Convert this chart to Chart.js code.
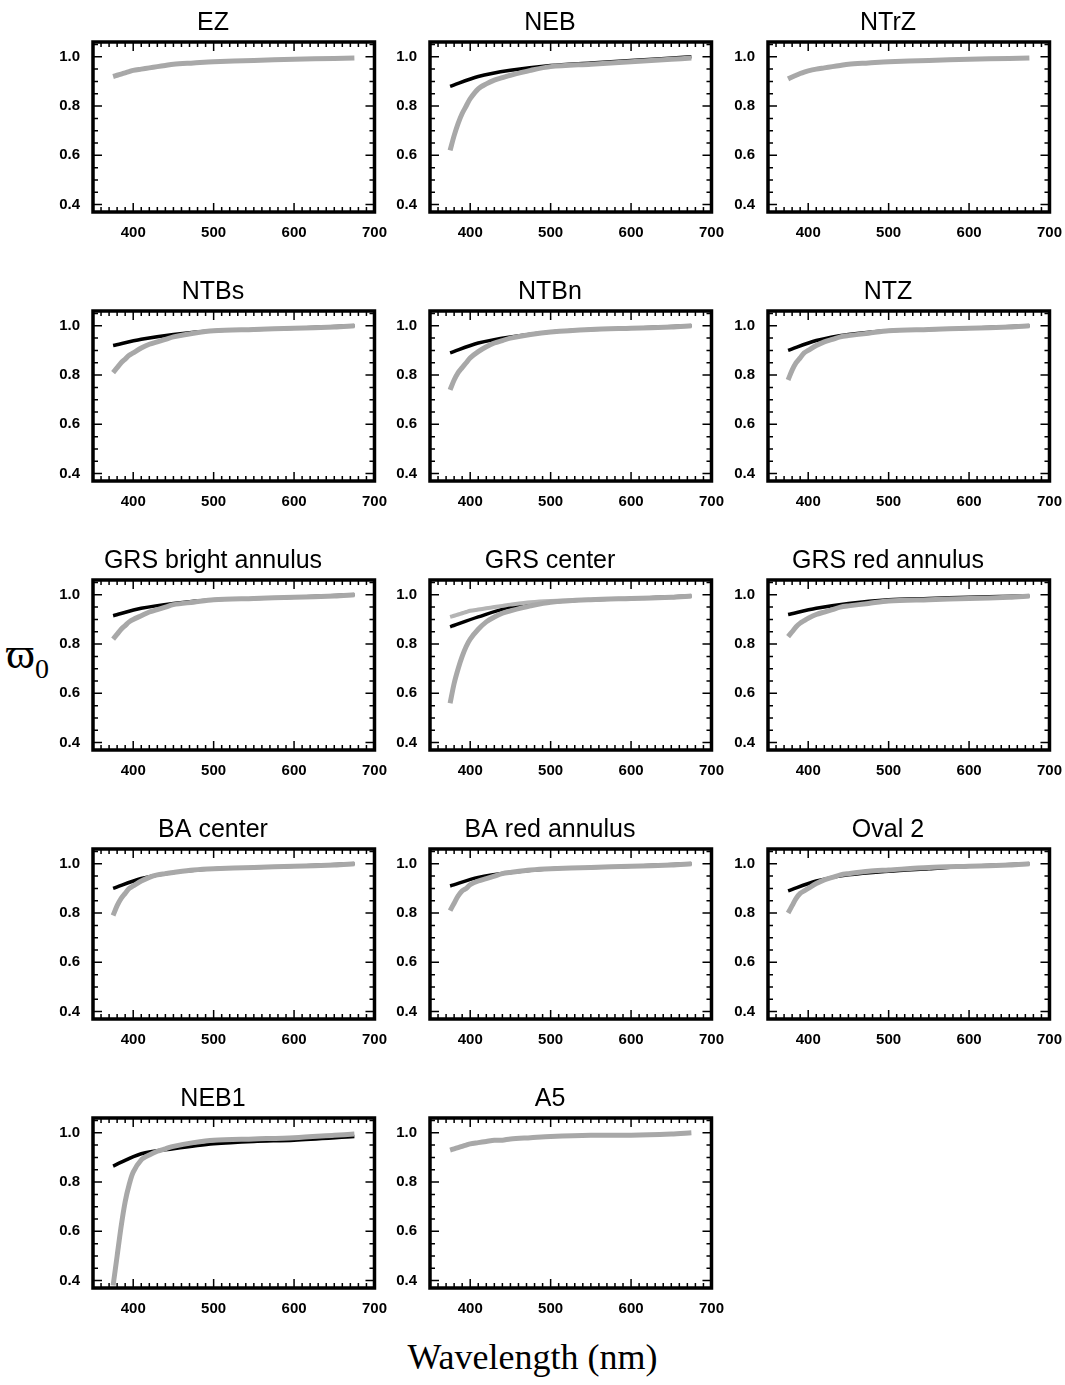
<!DOCTYPE html>
<html><head><meta charset="utf-8">
<script src="https://cdn.jsdelivr.net/npm/chart.js@4/dist/chart.umd.min.js"></script>
<style>
body{margin:0;background:#fff;width:1065px;height:1385px;position:relative;overflow:hidden}
.p{position:absolute}
#yl{position:absolute;left:6px;top:628px;font:44px "Liberation Serif",serif}
#yl sub{font-size:28px}
#xl{position:absolute;left:0;width:1065px;top:1336px;text-align:center;font:36px "Liberation Serif",serif}
</style></head><body>
<div id="yl">ϖ<sub>0</sub></div>
<div id="xl">Wavelength (nm)</div>
<script>
const WL = [375,380,385,390,395,400,410,420,430,440,450,475,500,550,600,650,675];
const BLACK_WL = [375,410,450,500,550,600,675];
const TITLES = ['EZ','NEB','NTrZ','NTBs','NTBn','NTZ','GRS bright annulus','GRS center','GRS red annulus','BA center','BA red annulus','Oval 2','NEB1','A5'];
const X_TICKS = [400,500,600,700];
const Y_TICKS = [0.4,0.6,0.8,1.0];

const GRAY = [
  [.92,.925,.93,.935,.94,.945,.95,.955,.96,.965,.97,.975,.98,.985,.99,.993,.995],
  [.62,.68,.73,.77,.80,.83,.87,.89,.905,.915,.925,.945,.96,.97,.98,.99,.995],
  [.91,.918,.925,.932,.938,.943,.95,.955,.96,.965,.97,.975,.98,.985,.99,.993,.995],
  [.81,.83,.85,.865,.88,.89,.91,.925,.935,.945,.955,.97,.98,.985,.99,.995,1.0],
  [.74,.78,.81,.83,.85,.87,.895,.915,.93,.94,.95,.965,.975,.985,.99,.995,1.0],
  [.78,.82,.85,.87,.89,.90,.92,.935,.945,.955,.96,.97,.98,.985,.99,.995,1.0],
  [.82,.84,.86,.875,.89,.90,.915,.93,.94,.95,.96,.97,.98,.985,.99,.995,1.0],
  [.56,.64,.70,.75,.79,.82,.86,.89,.91,.925,.935,.955,.97,.98,.985,.99,.995],
  [.83,.85,.87,.885,.895,.905,.92,.93,.94,.95,.955,.965,.975,.98,.985,.99,.995],
  [.79,.83,.86,.88,.90,.91,.93,.945,.955,.96,.965,.975,.98,.985,.99,.995,1.0],
  [.81,.84,.87,.89,.90,.915,.93,.94,.95,.96,.965,.975,.98,.985,.99,.995,1.0],
  [.80,.83,.86,.88,.89,.90,.92,.935,.945,.955,.96,.97,.975,.985,.99,.995,1.0],
  [.38,.50,.62,.72,.79,.84,.89,.91,.925,.935,.945,.96,.97,.975,.98,.99,.995],
  [.93,.935,.94,.945,.95,.955,.96,.965,.97,.97,.975,.98,.985,.99,.99,.995,1.0]
];
// second gray curve only in GRS center
const GRAY2_GRS_CENTER = [.91,.915,.92,.925,.93,.935,.94,.945,.95,.955,.96,.97,.975,.98,.985,.99,.995];
const BLACK = [
  null,
  [.88,.92,.945,.965,.975,.985,1.0],
  null,
  [.92,.945,.965,.98,.985,.99,1.0],
  [.89,.93,.955,.975,.985,.99,1.0],
  [.90,.94,.965,.98,.985,.99,1.0],
  [.915,.945,.965,.98,.985,.99,1.0],
  [.87,.91,.95,.97,.98,.985,.995],
  [.92,.945,.965,.98,.985,.99,.995],
  [.90,.94,.965,.98,.985,.99,1.0],
  [.91,.945,.965,.98,.985,.99,1.0],
  [.89,.93,.955,.97,.98,.99,1.0],
  [.865,.915,.935,.955,.965,.97,.985],
  null
];

const COL_LEFT = [93,430,768];
const ROW_TOP = [42,311,580,849,1118];
const PW = 282, PH = 170, YAX = 42, XAX = 27, TT = 34, RP = 16;

const boxTicks = {
  id: 'boxTicks',
  afterDraw(c) {
    const {ctx, chartArea: a, scales: {x, y}} = c;
    ctx.save();
    ctx.strokeStyle = '#000';
    ctx.lineWidth = 1.5;
    for (let v = 350; v <= 700; v += 10) {
      const px = x.getPixelForValue(v);
      const len = v % 100 === 0 ? 9 : 5;
      ctx.beginPath();
      ctx.moveTo(px, a.bottom); ctx.lineTo(px, a.bottom - len);
      ctx.moveTo(px, a.top); ctx.lineTo(px, a.top + len);
      ctx.stroke();
    }
    for (let i = 8; i <= 21; i++) {
      const v = i * 0.05;
      const py = y.getPixelForValue(v);
      if (py < a.top || py > a.bottom) continue;
      const len = i % 4 === 0 ? 9 : 5;
      ctx.beginPath();
      ctx.moveTo(a.left, py); ctx.lineTo(a.left + len, py);
      ctx.moveTo(a.right, py); ctx.lineTo(a.right - len, py);
      ctx.stroke();
    }
    ctx.lineWidth = 3.5;
    ctx.strokeRect(a.left, a.top, a.right - a.left, a.bottom - a.top);
    ctx.restore();
  }
};

function pts(xs, ys) { return xs.map((v, i) => ({x: v, y: ys[i]})); }

TITLES.forEach((title, i) => {
  const col = i % 3, row = Math.floor(i / 3);
  const div = document.createElement('div');
  div.className = 'p';
  const w = YAX + PW + RP, h = TT + PH + XAX;
  div.style.cssText = `left:${COL_LEFT[col]-YAX}px;top:${ROW_TOP[row]-TT}px;width:${w}px;height:${h}px`;
  const cv = document.createElement('canvas');
  div.appendChild(cv);
  document.body.appendChild(div);

  const ds = [{data: pts(WL, GRAY[i]), borderColor: '#a8a8a8', borderWidth: 5}];
  if (i === 7) ds.push({data: pts(WL, GRAY2_GRS_CENTER), borderColor: '#b4b4b4', borderWidth: 4});
  if (BLACK[i]) ds.push({data: pts(BLACK_WL, BLACK[i]), borderColor: '#000', borderWidth: 3.5});

  new Chart(cv, {
    type: 'line',
    data: {datasets: ds},
    plugins: [boxTicks],
    options: {
      animation: false, responsive: true, maintainAspectRatio: false,
      layout: {padding: {right: RP, left: 0, top: 0, bottom: 0}},
      elements: {point: {radius: 0}, line: {tension: 0.3}},
      plugins: {
        legend: {display: false}, tooltip: {enabled: false},
        title: {display: true, text: title, color: '#000',
          font: {family: 'Liberation Sans', size: 25, weight: 'normal'}, padding: {top: 0, bottom: 4}}
      },
      scales: {
        x: {type: 'linear', min: 350, max: 700,
          grid: {display: false}, border: {display: false},
          afterBuildTicks: s => { s.ticks = X_TICKS.map(v => ({value: v})); },
          afterFit: s => { s.height = XAX; },
          ticks: {color: '#000', font: {family: 'Liberation Sans', size: 15, weight: 'bold'}, padding: 4, maxRotation: 0}},
        y: {min: 0.37, max: 1.06,
          grid: {display: false}, border: {display: false},
          afterBuildTicks: s => { s.ticks = Y_TICKS.map(v => ({value: v})); },
          afterFit: s => { s.width = YAX; },
          ticks: {color: '#000', font: {family: 'Liberation Sans', size: 15, weight: 'bold'}, padding: 5,
            callback: v => v.toFixed(1)}}
      }
    }
  });
});
</script>
</body></html>
